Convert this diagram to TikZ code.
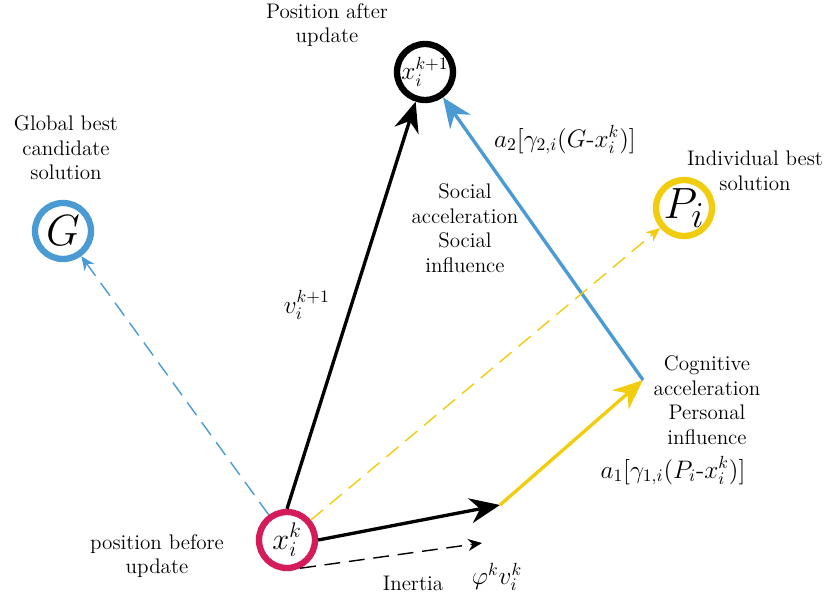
\documentclass[tikz,border=0pt]{standalone}
\usepackage{amsmath,amssymb}
\usepackage{xcolor}
\usetikzlibrary{arrows.meta,positioning,calc}

\definecolor{pcrimson}{HTML}{D41C5C}
\definecolor{pblue}{HTML}{4A9AD4}
\definecolor{pyellow}{HTML}{F2CC0F}

\begin{document}
\begin{tikzpicture}[
  x=0.02cm, y=0.02cm,
  pt/.style={draw=#1, circle, line width=3.6pt, text=black, minimum size=1.12cm, inner sep=0pt},
  lbl/.style={align=center, font=\large, inner sep=0pt},
  arr/.style={-{Stealth[length=6mm, width=5mm]}, line width=1.9pt},
  darr/.style={-{Stealth[length=2.8mm, width=2.4mm]}, dashed, dash pattern=on 9pt off 5pt, line width=0.8pt}
]
\useasboundingbox (0,0) rectangle (834,595);

% particles
\node[pt=pcrimson] (xk) at (287,55) {\LARGE $x_i^k$};
\node[pt=black] (xk1) at (425,523) {\Large $x_i^{k+1}$};
\node[pt=pblue] (G) at (63,364) {\Huge $G$};
\node[pt=pyellow] (P) at (684,387) {\Huge $P_i$};

\coordinate (m1) at (500,90);
\coordinate (m2) at (643,215);
\coordinate (m3) at (482,52);

% captions
\node[lbl] (capxk1) at (327,570) {Position after\\ update};
\node[lbl] (capG) at (66,447) {Global best\\ candidate\\ solution};
\node[lbl] (capP) at (755,424) {Individual best\\ solution};
\node[lbl] (capxk) at (157,39) {position before\\ update};
\node[lbl] (social) at (465,367) {Social\\ acceleration\\ Social\\ influence};
\node[lbl] (cogn) at (707,195) {Cognitive\\ acceleration\\ Personal\\ influence};
\node[lbl] (inert) at (413,12) {Inertia};

% vectors
\draw[arr] (xk.north) -- node[left=8pt, font=\Large]{$v_i^{k+1}$} (xk1);
\draw[arr] (xk.east) -- (m1);
\draw[arr, pyellow] (m1) -- (m2);
\draw[arr, pblue] (m2) -- (xk1);
\draw[darr, pyellow] (xk) -- (P);
\draw[darr, pblue] (xk) -- (G);
\draw[darr] (xk.-65) -- (m3);

% formulas
\node[font=\Large, inner sep=0pt] (f2) at (565,455) {$a_2[\gamma_{2,i}(G\text{-}x_i^k)]$};
\node[font=\Large, inner sep=0pt] (f1) at (673,124) {$a_1[\gamma_{1,i}(P_i\text{-}x_i^k)]$};
\node[font=\Large, inner sep=0pt] (fv) at (497,18) {$\varphi^k v_i^k$};
\end{tikzpicture}
\end{document}
